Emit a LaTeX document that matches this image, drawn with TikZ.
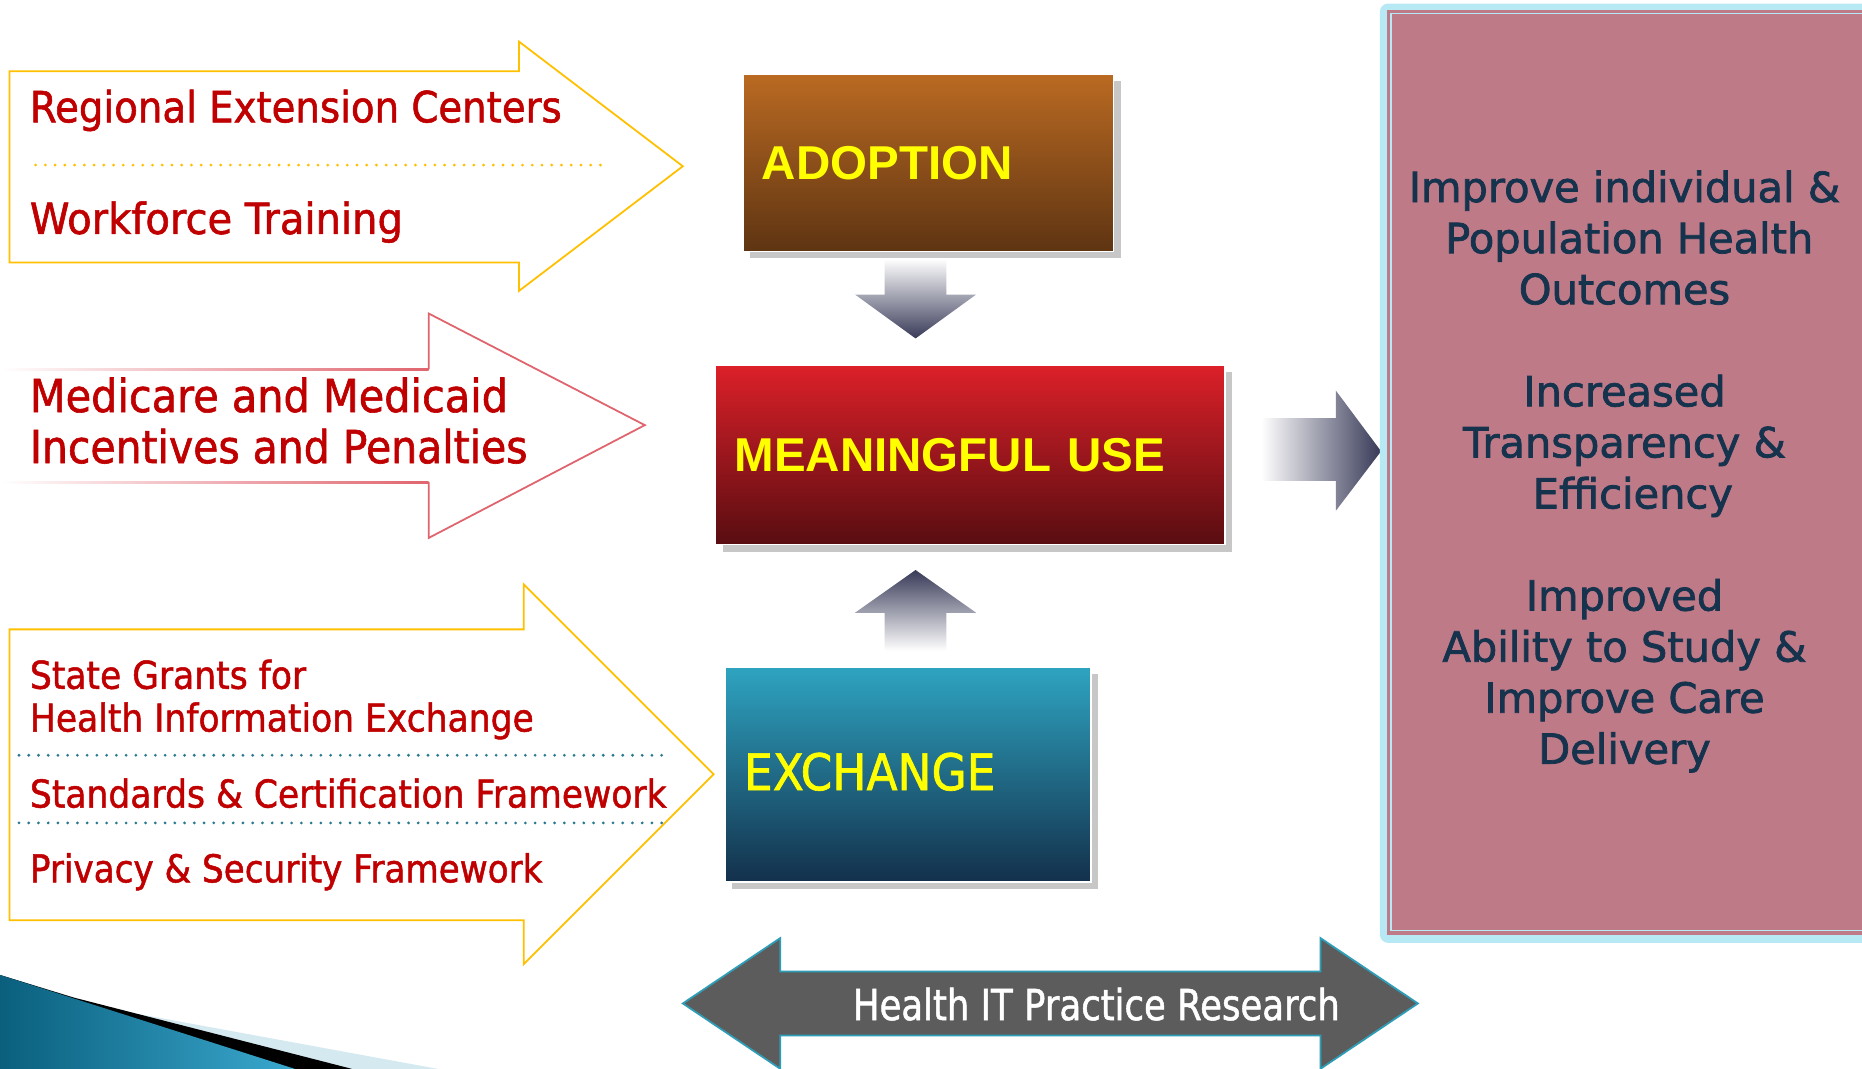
\documentclass[tikz,border=0pt]{standalone}
\usepackage{fontspec}
\usepackage{graphicx}
\setmainfont{DejaVu Sans}
\newfontfamily\lf[FakeStretch=0.9,FakeBold=1.3]{DejaVu Sans}
\newfontfamily\hf[FakeStretch=0.83,FakeBold=1.2]{DejaVu Sans}
\newfontfamily\rf[FakeBold=1.8]{DejaVu Sans}
\newfontfamily\af{Liberation Sans}
\usetikzlibrary{shadows}
\definecolor{gold}{HTML}{FFC000}
\definecolor{dred}{HTML}{C00000}
\definecolor{pinkline}{HTML}{E0646E}
\definecolor{dotteal}{HTML}{2A7A90}
\definecolor{navyarr}{HTML}{383A58}
\definecolor{adtop}{HTML}{BA6A22}
\definecolor{adbot}{HTML}{5E3412}
\definecolor{mutop}{HTML}{DC2029}
\definecolor{mubot}{HTML}{580D11}
\definecolor{extop}{HTML}{2EA4C1}
\definecolor{exbot}{HTML}{13304B}
\definecolor{panelpink}{HTML}{BF7A87}
\definecolor{panelblue}{HTML}{B7E9F4}
\definecolor{paneltext}{HTML}{16334E}
\definecolor{dgray}{HTML}{3B3B3B}
\definecolor{lgray}{HTML}{5C5C5C}
\definecolor{arrteal}{HTML}{2E9EB8}
\definecolor{swdark}{HTML}{0A5F7D}
\definecolor{swblue}{HTML}{3AA8CE}
\definecolor{swlight}{HTML}{D5E9F1}
\definecolor{boxyellow}{HTML}{FFFF00}
\tikzset{
  outarrow/.style={line width=1.5pt, line join=miter},
  redtext/.style={text=dred, anchor=base west, inner sep=0pt},
  dotline/.style={line width=2.6pt, line cap=round, dash pattern=on 0pt off 8.2pt},
  stagebox/.style={draw=white, line width=1.2pt, anchor=north west, inner xsep=16pt,
    align=left, text=boxyellow,
    drop shadow={shadow xshift=6pt, shadow yshift=-6pt, fill=black!22, opacity=1}},
}
\begin{document}
\begin{tikzpicture}[x=1pt, y=-1pt]
\useasboundingbox (0,0) rectangle (1568,900);
\clip (0,0) rectangle (1568,900);
\fill[white] (0,0) rectangle (1568,900);

% ---------- top input arrow ----------
\draw[outarrow, gold] (8,60) -- (437,60) -- (437,35) -- (575,140) -- (437,245) -- (437,221) -- (8,221) -- cycle;
\node[redtext, font=\lf\fontsize{36.2}{40}\selectfont] (rec) at (25,103) {Regional Extension Centers};
\coordinate (d1a) at (30,139);
\coordinate (d1b) at (510,139);
\draw[dotline, gold] (d1a) -- (d1b);
\node[redtext, font=\lf\fontsize{36.2}{40}\selectfont] (wft) at (25,197) {\scalebox{1.035}[1]{Workforce Training}};

% ---------- middle input arrow ----------
\shade[left color=white, right color=pinkline] (0,310.2) rectangle (361,311.8);
\shade[left color=white, right color=pinkline] (0,405.2) rectangle (361,406.8);
\draw[line width=1.5pt, pinkline, line join=miter] (361,311) -- (361,264) -- (543,358) -- (361,453) -- (361,406);
\node[redtext, font=\lf\fontsize{38.3}{43}\selectfont] (mmi) at (25,347) {\scalebox{1.012}[1]{Medicare and Medicaid}};
\node[redtext, font=\lf\fontsize{38.3}{43}\selectfont] (iap) at (25,390) {Incentives and Penalties};

% ---------- bottom input arrow ----------
\draw[outarrow, gold] (8,530) -- (441,530) -- (441,492) -- (601,652) -- (441,812) -- (441,775) -- (8,775) -- cycle;
\node[redtext, font=\lf\fontsize{32.3}{36}\selectfont] (sgf) at (25,580) {State Grants for};
\node[redtext, font=\lf\fontsize{32.3}{36}\selectfont] (hie) at (25,616) {Health Information Exchange};
\coordinate (d2a) at (16,636);
\coordinate (d2b) at (560,636);
\draw[dotline, dotteal] (d2a) -- (d2b);
\node[redtext, font=\lf\fontsize{32.3}{36}\selectfont] (scf) at (25,680) {Standards \& Certification Framework};
\coordinate (d3a) at (16,693);
\coordinate (d3b) at (560,693);
\draw[dotline, dotteal] (d3a) -- (d3b);
\node[redtext, font=\lf\fontsize{32.3}{36}\selectfont] (psf) at (25,743) {\scalebox{0.99}[1]{Privacy \& Security Framework}};

% ---------- stage boxes ----------
\node[stagebox, top color=adtop, bottom color=adbot, text width=280pt, minimum height=149pt,
  font=\af\bfseries\fontsize{40}{44}\selectfont] (adopt) at (625,62) {ADOPTION};
\node[stagebox, top color=mutop, bottom color=mubot, text width=397pt, minimum height=151pt,
  font=\af\bfseries\fontsize{40}{44}\selectfont] (mu) at (602,307) {MEANINGFUL USE};
\node[stagebox, top color=extop, bottom color=exbot, text width=276pt, minimum height=181pt,
  font=\lf\fontsize{42.5}{46}\selectfont] (exch) at (610,561) {\raisebox{5pt}{EXCHANGE}};

% ---------- grey flow arrows ----------
\shade[top color=white, bottom color=navyarr] (745,218) -- (797,218) -- (797,248) -- (822,248) -- (771,285) -- (720,248) -- (745,248) -- cycle;
\shade[top color=navyarr, bottom color=white] (771,480) -- (822,516) -- (797,516) -- (797,548) -- (745,548) -- (745,516) -- (720,516) -- cycle;
\shade[left color=white, right color=navyarr] (1062,352) -- (1125,352) -- (1125,329) -- (1163,380) -- (1125,430) -- (1125,405) -- (1062,405) -- cycle;

% ---------- outcome panel ----------
\fill[panelblue, rounded corners=7pt] (1162,3) rectangle (1590,794);
\fill[panelpink] (1168,8) rectangle (1590,787);
\draw[panelblue, line width=1.3pt] (1171.5,11.5) rectangle (1590,783.5);
\node[font=\rf\fontsize{35}{43}\selectfont, text=paneltext, align=center, inner sep=0pt] (goals) at (1368,397)
 {Improve individual \&\\\hspace*{8pt}Population Health\\Outcomes\\[43pt]Increased\\Transparency \&\\\hspace*{14pt}Efficiency\\[43pt]Improved\\Ability to Study \&\\Improve Care\hspace*{6pt}\\Delivery};

% ---------- research double arrow ----------
\draw[arrteal, line width=1.5pt, line join=miter, left color=lgray, middle color=dgray, right color=lgray]
  (575,845) -- (657,790) -- (657,818) -- (1112,818) -- (1112,790) -- (1194,845) -- (1112,900) -- (1112,872) -- (657,872) -- (657,900) -- cycle;
\node[font=\hf\fontsize{36}{40}\selectfont, text=white, anchor=base west, inner sep=0pt] (hitr) at (718,859) {Health IT Practice Research};

% ---------- corner swoosh ----------
\fill[swlight] (0,821) -- (90,849) -- (368,900) -- (0,900) -- cycle;
\fill[black] (0,821) -- (62,840) -- (296,900) -- (0,900) -- cycle;
\shade[left color=swdark, right color=swblue] (0,821) -- (248,900) -- (0,900) -- cycle;
\end{tikzpicture}
\end{document}
